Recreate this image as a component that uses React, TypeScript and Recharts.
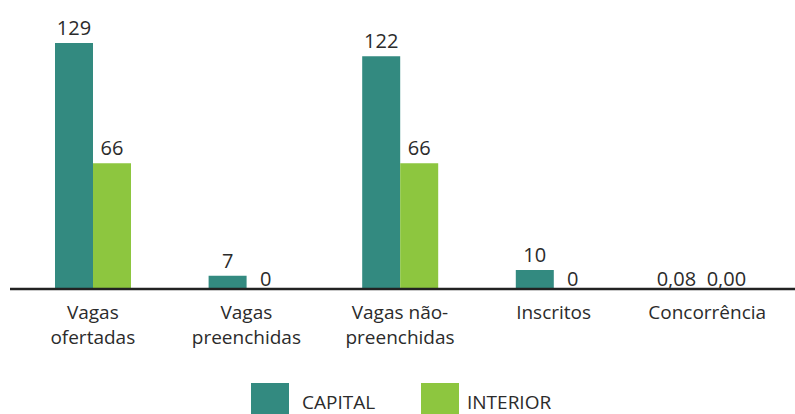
import React from 'react';
import { BarChart, Bar, XAxis, YAxis, LabelList } from 'recharts';

const categories = ['Vagas\nofertadas', 'Vagas\npreenchidas', 'Vagas não-\npreenchidas', 'Inscritos', 'Concorrência'];
const capital = [129, 7, 122, 10, 0.08];
const interior = [66, 0, 66, 0, 0];
const decimals = [0, 0, 0, 0, 2];

const CAPITAL_COLOR = '#338a80';
const INTERIOR_COLOR = '#8dc63f';
const TEXT_COLOR = '#2b2b2b';
const FONT = '"Open Sans", "Noto Sans", sans-serif';

const fmt = (v: number, d: number) => v.toFixed(d).replace('.', ',');

const data = categories.map((name, i) => ({
  name,
  capital: capital[i],
  interior: interior[i],
  capitalLabel: fmt(capital[i], decimals[i]),
  interiorLabel: fmt(interior[i], decimals[i]),
}));

const CategoryTick = (props: any) => {
  const { x, payload } = props;
  const lines = String(payload.value).split('\n');
  return (
    <text x={x} y={319} textAnchor="middle" fill={TEXT_COLOR} fontSize={19} fontFamily={FONT}>
      {lines.map((l, i) => (
        <tspan key={i} x={x} dy={i === 0 ? 0 : 25}>{l}</tspan>
      ))}
    </text>
  );
};

// small labels on near-zero bars sit lower; the capital one is nudged left so the two don't collide
const ValueLabel = (props: any) => {
  const { x, y, width, height, value, nudge = 0 } = props;
  const tiny = height < 4;
  const off = tiny ? 2 : 8;
  const dx = tiny && String(value).length > 2 ? nudge : 0;
  return (
    <text x={x + width / 2 + dx} y={y - off} textAnchor="middle" fill={TEXT_COLOR} fontSize={20} fontFamily={FONT}>
      {value}
    </text>
  );
};

const LegendItem = ({ color, label, left, textLeft }: { color: string; label: string; left: number; textLeft: number }) => (
  <>
    <div style={{ position: 'absolute', left, top: 383, width: 38, height: 31, background: color }} />
    <div style={{ position: 'absolute', left: textLeft, top: 390, fontSize: 19, lineHeight: '24px', color: TEXT_COLOR, fontFamily: FONT }}>{label}</div>
  </>
);

export default function App() {
  return (
    <div style={{ position: 'absolute', left: 0, top: 0, width: 795, height: 414, overflow: 'hidden', background: '#fff' }}>
      <BarChart width={795} height={414} data={data} margin={{ top: 43, right: 0, left: 10, bottom: 0 }} barGap={0} barSize={38}>
        <XAxis
          dataKey="name"
          height={125}
          axisLine={{ stroke: '#222', strokeWidth: 2.5 }}
          tickLine={false}
          padding={{ left: 6, right: 11 }}
          tick={<CategoryTick />}
          interval={0}
        />
        <YAxis hide domain={[0, 129]} />
        <Bar dataKey="capital" fill={CAPITAL_COLOR} isAnimationActive={false} minPointSize={1}>
          <LabelList dataKey="capitalLabel" content={<ValueLabel nudge={-12} />} />
        </Bar>
        <Bar dataKey="interior" fill={INTERIOR_COLOR} isAnimationActive={false} minPointSize={1}>
          <LabelList dataKey="interiorLabel" content={<ValueLabel nudge={0} />} />
        </Bar>
      </BarChart>
      <LegendItem color={CAPITAL_COLOR} label="CAPITAL" left={251} textLeft={302} />
      <LegendItem color={INTERIOR_COLOR} label="INTERIOR" left={421} textLeft={467} />
    </div>
  );
}
